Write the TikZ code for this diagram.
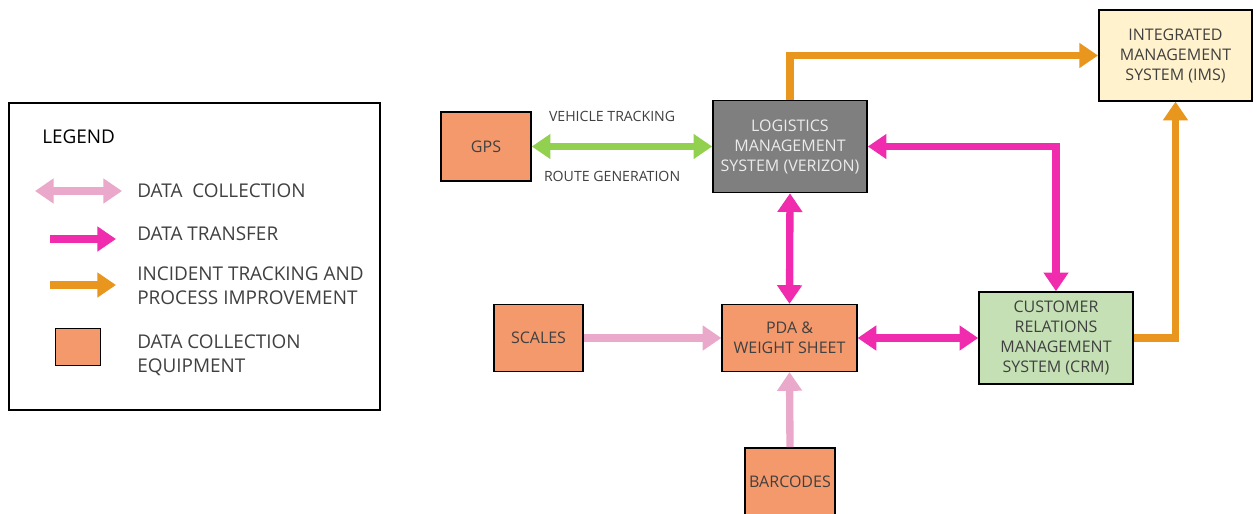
\documentclass[tikz,border=0pt]{standalone}
\usepackage{fontspec}
\setmainfont{Open Sans}
\usetikzlibrary{arrows.meta}
\definecolor{equip}{HTML}{F4996C}
\definecolor{lmsgray}{HTML}{7F7F7F}
\definecolor{imsyel}{HTML}{FFF2CC}
\definecolor{crmgreen}{HTML}{C5E0B4}
\definecolor{xfer}{HTML}{F02BAE}
\definecolor{collect}{HTML}{EAA8CA}
\definecolor{track}{HTML}{E8961E}
\definecolor{gpsgreen}{HTML}{92D050}
\definecolor{txt}{HTML}{404040}

\begin{document}
\begin{tikzpicture}[
x=0.75pt, y=-0.75pt,
box/.style={draw=black, line width=1.2pt, align=center, inner sep=2pt,
  font=\fontsize{12}{15}\selectfont, text=txt},
equipbox/.style={box, fill=equip},
legtext/.style={anchor=west, align=left, inner sep=0pt,
  font=\fontsize{14.2}{18}\selectfont, text=txt},
edgelabel/.style={inner sep=0pt, font=\fontsize{10.6}{12}\selectfont, text=txt},
collectarrow/.style={draw=collect, line width=5.5pt, -{Triangle[width=18pt,length=14pt]}},
xferarrow/.style={draw=xfer, line width=5.5pt, {Triangle[width=18pt,length=14pt]}-{Triangle[width=18pt,length=14pt]}},
trackarrow/.style={draw=track, line width=5.5pt, -{Triangle[width=18pt,length=14pt]}}
]
\useasboundingbox[fill=white] (0,0) rectangle (1257,514);

% legend
\node[draw=black, line width=1.2pt, minimum width=278pt, minimum height=230pt] (legend) at (194.5,256.5) {};
\node[anchor=west, inner sep=0pt, font=\fontsize{14.2}{18}\selectfont] (legtitle) at (42,137) {LEGEND};

\coordinate (lc1) at (35,191);
\coordinate (lc2) at (122,191);
\draw[collectarrow, {Triangle[width=18pt,length=14pt]}-{Triangle[width=18pt,length=14pt]}] (lc1) -- (lc2);
\node[legtext] (legcollect) at (137,191) {DATA \ COLLECTION};

\coordinate (lx1) at (50,239);
\coordinate (lx2) at (116,239);
\draw[xferarrow, -{Triangle[width=18pt,length=14pt]}] (lx1) -- (lx2);
\node[legtext] (legxfer) at (137,234) {DATA TRANSFER};

\coordinate (lt1) at (50,285);
\coordinate (lt2) at (116,285);
\draw[trackarrow] (lt1) -- (lt2);
\node[legtext] (legtrack) at (137,286) {INCIDENT TRACKING AND\\PROCESS IMPROVEMENT};

\node[draw=black, line width=1.2pt, fill=equip, minimum width=34pt, minimum height=28pt] (legequip) at (78,347) {};
\node[legtext] (legequiptext) at (137,355) {DATA COLLECTION\\EQUIPMENT};

% boxes
\node[equipbox, minimum width=67.5pt, minimum height=52pt] (gps) at (486,146.5) {GPS};
\node[box, fill=lmsgray, text=white!92!black, minimum width=115.5pt, minimum height=69pt] (lms) at (790,146.5) {LOGISTICS\\MANAGEMENT\\SYSTEM (VERIZON)};
\node[box, fill=imsyel, minimum width=115pt, minimum height=68pt] (ims) at (1175.5,55.5) {INTEGRATED\\MANAGEMENT\\SYSTEM (IMS)};
\node[equipbox, minimum width=67pt, minimum height=50pt] (scales) at (538.5,338) {SCALES};
\node[equipbox, minimum width=101pt, minimum height=50pt] (pda) at (789.5,338) {PDA \&\\WEIGHT SHEET};
\node[box, fill=crmgreen, minimum width=115.5pt, minimum height=69pt] (crm) at (1056,338) {CUSTOMER\\RELATIONS\\MANAGEMENT\\SYSTEM (CRM)};
\node[equipbox, minimum width=67.5pt, minimum height=51pt] (barcodes) at (790,482) {BARCODES};

% connectors
\draw[draw=gpsgreen, line width=5.5pt, {Triangle[width=18pt,length=14pt]}-{Triangle[width=18pt,length=14pt]}] (gps.east) -- (lms.west)
  node[pos=0.445, edgelabel, above=16pt] {VEHICLE TRACKING}
  node[pos=0.445, edgelabel, below=16pt] {ROUTE GENERATION};
\draw[xferarrow] (lms.south) -- (pda.north);
\draw[xferarrow] (pda.east) -- (crm.west);
\draw[xferarrow] (crm.north) |- (lms.east);
\draw[collectarrow] (scales.east) -- (pda.west);
\draw[collectarrow] (barcodes.north) -- (pda.south);
\draw[trackarrow] (lms.north) |- (ims.west);
\draw[trackarrow] (crm.east) -| (ims.south);

\end{tikzpicture}
\end{document}
